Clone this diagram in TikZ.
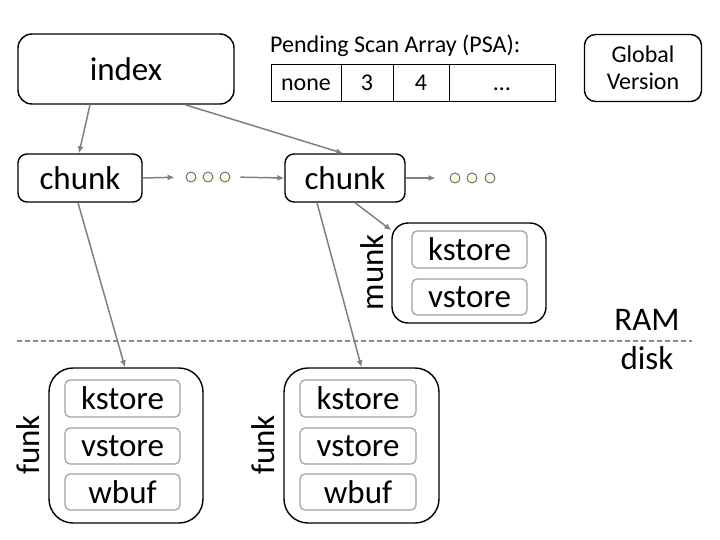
\documentclass[tikz,border=0pt]{standalone}
\usepackage{fontspec}
\setmainfont{Carlito}
\usepackage{tikz}
\usetikzlibrary{arrows.meta}

\begin{document}
\begin{tikzpicture}
[
x=1pt, y=-1pt,
big/.style={font=\fontsize{33}{37}\selectfont},
small/.style={font=\fontsize{24}{28}\selectfont},
box/.style={draw, line width=1.4pt, rounded corners=10pt, inner sep=0pt, big},
part/.style={draw=gray!75, line width=1.2pt, rounded corners=5pt, inner sep=0pt, minimum width=115pt, big},
cell/.style={draw, line width=1pt, inner sep=0pt, minimum height=37pt, text height=19pt, text depth=3pt, small},
dot/.style={circle, draw=black!60, fill=black!8!yellow!10, line width=0.9pt, minimum size=10pt, inner sep=0pt},
link/.style={draw=gray, line width=1.5pt, -{Latex[length=7pt,width=6pt]}}
]

\useasboundingbox (0,0) rectangle (720,540);

\node[box, rounded corners=14pt, minimum width=216pt, minimum height=70pt] (index) at (126,69) {index};
\node[box, rounded corners=9pt, minimum width=124pt, minimum height=48pt] (chunka) at (80,178) {chunk};
\node[box, rounded corners=9pt, minimum width=120pt, minimum height=48pt] (chunkb) at (345,178) {chunk};

\node[dot] (da1) at (191,177) {};
\node[dot] (da2) at (208,177) {};
\node[dot] (da3) at (225,177) {};
\node[dot] (db1) at (455,178) {};
\node[dot] (db2) at (472,178) {};
\node[dot] (db3) at (490,178) {};

\node[small, anchor=west, inner sep=0pt] (psa) at (270,46) {Pending Scan Array (PSA):};
\node[cell, minimum width=70pt] (c0) at (306,83) {none};
\node[cell, minimum width=52pt] (c1) at (367,83) {3};
\node[cell, minimum width=56pt] (c2) at (421,83) {4};
\node[cell, minimum width=106pt] (c3) at (502,83) {\dots};

\node[box, small, rounded corners=11pt, minimum width=117pt, minimum height=67pt, align=center] (global) at (643,68) {Global\\[-1pt]Version};

\node[box, rounded corners=16pt, minimum width=154pt, minimum height=100pt] (munk) at (469,273) {};
\node[part, minimum height=37pt] (mk) at (469.5,249.5) {kstore};
\node[part, minimum height=36pt] (mv) at (469.5,297) {vstore};
\node[big, rotate=90] (munklabel) at (372,272) {munk};

\draw[gray!90, line width=1.2pt, dash pattern=on 5pt off 3pt] (17,341) coordinate (ramleft) -- (692,341) coordinate (ramright);
\node[big] (ram) at (647,320) {RAM};
\node[big] (disk) at (647,358) {disk};

\node[box, rounded corners=24pt, minimum width=154pt, minimum height=155pt] (funka) at (126,445.5) {};
\node[part, minimum height=37pt] (ka) at (122.5,398.5) {kstore};
\node[part, minimum height=36pt] (va) at (122.5,446) {vstore};
\node[part, minimum height=36pt] (wa) at (122.5,492) {wbuf};
\node[big, rotate=90] (funkalabel) at (28,445) {funk};

\node[box, rounded corners=24pt, minimum width=155pt, minimum height=155pt] (funkb) at (361.5,445.5) {};
\node[part, minimum height=37pt, minimum width=116pt] (kb) at (358,398.5) {kstore};
\node[part, minimum height=36pt, minimum width=116pt] (vb) at (358,446) {vstore};
\node[part, minimum height=36pt, minimum width=116pt] (wb) at (358,492) {wbuf};
\node[big, rotate=90] (funkblabel) at (263,445) {funk};

\draw[link] ([xshift=-36pt]index.south) -- ([xshift=-1pt]chunka.north);
\draw[link] ([xshift=59pt]index.south) -- ([xshift=-2pt]chunkb.north);
\draw[link, shorten >=11pt] (chunka.east) -- (da1.west);
\draw[link, shorten <=10pt] (da3.east) -- (chunkb.west);
\draw[link, shorten >=14pt] (chunkb.east) -- (db1.west);
\draw[link] ([xshift=10pt]chunkb.south) -- ([yshift=-8pt]munk.north west);
\draw[link] ([xshift=-2pt]chunka.south) -- ([xshift=-1pt]funka.north);
\draw[link] ([xshift=-28pt]chunkb.south) -- (funkb.north);
\end{tikzpicture}
\end{document}
